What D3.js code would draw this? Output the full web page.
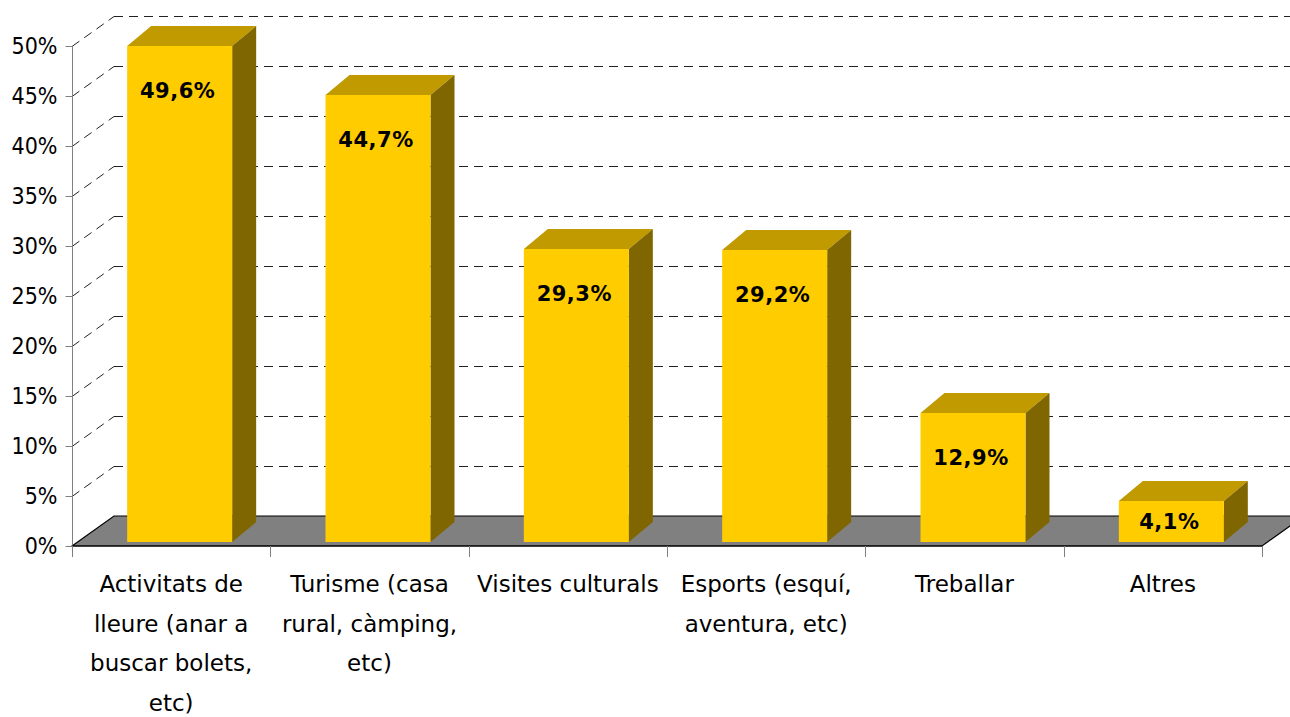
<!DOCTYPE html>
<html><head><meta charset="utf-8">
<script src="https://cdn.jsdelivr.net/npm/d3@7/dist/d3.min.js"></script>
<style>
html,body{margin:0;padding:0;background:#fff;}
svg{display:block;font-family:"DejaVu Sans",sans-serif;}
</style></head>
<body><svg id="c" width="1290" height="717"></svg>
<script>
const categories = [
  ["Activitats de","lleure (anar a","buscar bolets,","etc)"],
  ["Turisme (casa","rural, càmping,","etc)"],
  ["Visites culturals"],
  ["Esports (esquí,","aventura, etc)"],
  ["Treballar"],
  ["Altres"]
];
const values = [49.6, 44.7, 29.3, 29.2, 12.9, 4.1];
const valueLabels = ["49,6%","44,7%","29,3%","29,2%","12,9%","4,1%"];
const yTicks = [0,5,10,15,20,25,30,35,40,45,50];

const svg = d3.select("#c");
const left = 72, right = 1262, y0 = 546, yTop = 46;
const depthX = 42, depthY = 30;      // floor / wall depth
const barDX = 24, barDY = 20;         // bar depth
const barLift = 4;                    // bar front sits inside floor

const ids = categories.map((c,i)=>"c"+i);
const x = d3.scaleBand().domain(ids).range([left, right]).paddingInner(0).paddingOuter(0);
const y = d3.scaleLinear().domain([0,50]).range([y0, yTop]);

// floor
svg.append("path")
  .attr("d", `M${left},${y0}L${left+depthX},${y0-depthY}L${right+depthX},${y0-depthY}L${right},${y0}Z`)
  .attr("fill","#808080").attr("stroke","#000").attr("stroke-width",1.2);

// gridlines on back wall & left wall diagonals
const grid = svg.append("g");
yTicks.filter(d=>d>0).forEach(t=>{
  const yy = y(t) + 0.5;
  grid.append("line").attr("x1",left+depthX).attr("x2",right+depthX)
    .attr("y1",yy-depthY).attr("y2",yy-depthY)
    .attr("stroke","#222").attr("stroke-width",1).attr("stroke-dasharray","9,6")
    .attr("shape-rendering","crispEdges");
  grid.append("line").attr("x1",left).attr("x2",left+depthX)
    .attr("y1",yy).attr("y2",yy-depthY)
    .attr("stroke","#222").attr("stroke-width",1).attr("stroke-dasharray","9,6");
});

// bars
const bw = 105, shift = 8.5;
const bars = svg.append("g");
values.forEach((v,i)=>{
  const cx = x(ids[i]) + x.bandwidth()/2 + shift;
  const x0b = cx - bw/2, x1b = cx + bw/2;
  const base = y(0) - barLift, top = y(v) - barLift;
  bars.append("path")
    .attr("d",`M${x0b},${top}L${x0b+barDX},${top-barDY}L${x1b+barDX},${top-barDY}L${x1b},${top}Z`)
    .attr("fill","#C19A00");
  bars.append("path")
    .attr("d",`M${x1b},${top}L${x1b+barDX},${top-barDY}L${x1b+barDX},${base-barDY}L${x1b},${base}Z`)
    .attr("fill","#806600");
  bars.append("rect").attr("x",x0b).attr("y",top).attr("width",bw).attr("height",base-top)
    .attr("fill","#FFCC00");
  const h = base - top;
  const ly = top + Math.min(44, h/2);
  bars.append("text").attr("x",cx - 2).attr("y",ly).attr("dy","0.36em")
    .attr("text-anchor","middle").attr("font-weight","bold").attr("font-size",21)
    .attr("letter-spacing","0.5px").attr("fill","#000").text(valueLabels[i]);
});

// y axis
const yAxis = svg.append("g").attr("transform",`translate(${left+0.5},0)`)
  .call(d3.axisLeft(y).tickValues(yTicks).tickFormat(d=>d+"%").tickSize(7).tickPadding(8));
yAxis.select(".domain").attr("stroke","#808080").attr("d",`M0,${yTop}V${y0}`);
yAxis.selectAll(".tick line").attr("stroke","#808080");
yAxis.selectAll(".tick text").attr("font-size",23).attr("font-family","'DejaVu Sans Condensed','DejaVu Sans'")
  .attr("font-stretch","condensed").attr("fill","#000");

// x axis line and ticks
svg.append("line").attr("x1",left).attr("x2",right).attr("y1",y0).attr("y2",y0)
  .attr("stroke","#000").attr("stroke-width",1.2);
const xt = ids.map(d=>x(d)).concat([right]);
svg.append("g").selectAll("line").data(xt).join("line")
  .attr("x1",d=>Math.round(d)+0.5).attr("x2",d=>Math.round(d)+0.5).attr("y1",y0).attr("y2",y0+11)
  .attr("stroke","#808080");

// category labels
const cl = svg.append("g");
categories.forEach((lines,i)=>{
  const cx = x(ids[i]) + x.bandwidth()/2;
  const t = cl.append("text").attr("text-anchor","middle").attr("font-size",23).attr("fill","#000");
  lines.forEach((ln,j)=>{
    t.append("tspan").attr("x",cx).attr("y",592 + j*39.7).text(ln);
  });
});
</script>
</body></html>
